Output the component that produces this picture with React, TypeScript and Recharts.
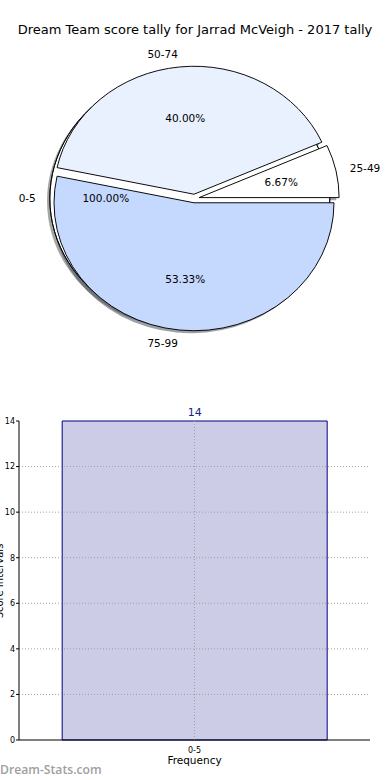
import React from "react";
import {
  PieChart,
  Pie,
  Cell,
  BarChart,
  Bar,
  XAxis,
  YAxis,
  ReferenceLine,
  LabelList,
} from "recharts";

// ---------- data ----------
const titleText = "Dream Team score tally for Jarrad McVeigh - 2017 tally";
const bgNames = ["0-5"];
const bgValues = [14];
const fgNames = ["25-49", "50-74", "75-99"];
const fgValues = [1, 6, 8];
const barCategories = ["0-5"];
const barValues = [14];
const yTicks = [0, 2, 4, 6, 8, 10, 12, 14];
const xLabel = "Frequency";
const yLabel = "Score Intervals";
const watermark = "Dream-Stats.com";

// ---------- style / layout ----------
const FONT = "'DejaVu Sans', sans-serif";
const fgColors = ["#ffffff", "#eaf1fe", "#c5d9fe"];
const bgColor = "#ffffff";
const K = 0.914; // vertical squash of the pie (elliptical axes)
const R = 140;
const CX = 194.5;
const CY = 198.5 / K;
const EXPLODE = 4.7;
const SDX = -2.8;
const SDY = 2.8;

const bgData = bgNames.map((name, i) => ({ name, value: bgValues[i] }));
const fgData = fgNames.map((name, i) => ({ name, value: fgValues[i] }));
const barData = barCategories.map((name, i) => ({ name, value: barValues[i] }));

const midAngles = (vals: number[]) => {
  const total = vals.reduce((a, b) => a + b, 0);
  let cum = 0;
  return vals.map((v) => {
    const m = ((cum + v / 2) / total) * 360;
    cum += v;
    return m;
  });
};
const pctText = (vals: number[]) => {
  const total = vals.reduce((a, b) => a + b, 0);
  return vals.map((v) => ((v / total) * 100).toFixed(2) + "%");
};

const RAD = Math.PI / 180;
const center = (mid: number) => ({
  cx: CX + EXPLODE * Math.cos(mid * RAD),
  cy: CY - EXPLODE * Math.sin(mid * RAD),
});

const darken = (hex: string) => {
  const n = parseInt(hex.slice(1), 16);
  const r = Math.round(((n >> 16) & 255) * 0.3);
  const g = Math.round(((n >> 8) & 255) * 0.3);
  const b = Math.round((n & 255) * 0.3);
  return `rgb(${r},${g},${b})`;
};

const fgMids = midAngles(fgValues);
const bgMids = midAngles(bgValues);
const fgPct = pctText(fgValues);
const bgPct = pctText(bgValues);

const makeLabel = (target: number, names: string[], pcts: string[]) => (props: any) => {
  if (props.index !== target) return <g />;
  const { cx, cy, midAngle } = props;
  const c = Math.cos(-midAngle * RAD);
  const s = Math.sin(-midAngle * RAD);
  const nx = cx + 1.1 * R * c;
  const ny = cy + 1.1 * R * s;
  const px = cx + 0.6 * R * c;
  const py = cy + 0.6 * R * s;
  return (
    <g>
      <g transform={`translate(${nx},${ny}) scale(1,${1 / K})`}>
        <text
          x={0}
          y={0}
          textAnchor={c >= 0 ? "start" : "end"}
          dominantBaseline="central"
          fontFamily={FONT}
          fontSize={10.5}
          fill="#000"
        >
          {names[target]}
        </text>
      </g>
      <g transform={`translate(${px},${py}) scale(1,${1 / K})`}>
        <text
          x={0}
          y={0}
          textAnchor="middle"
          dominantBaseline="central"
          fontFamily={FONT}
          fontSize={10.5}
          fill="#000"
        >
          {pcts[target]}
        </text>
      </g>
    </g>
  );
};

const onlyCells = (n: number, target: number, fill: string, stroke: string, fillOpacity = 1) =>
  Array.from({ length: n }).map((_, i) =>
    i === target ? (
      <Cell key={i} fill={fill} stroke={stroke} fillOpacity={fillOpacity} strokeOpacity={fillOpacity} />
    ) : (
      <Cell key={i} fill="none" stroke="none" />
    )
  );

const BarValueLabel = (props: any) => {
  const { x, y, width, value } = props;
  return (
    <text
      x={Number(x) + Number(width) / 2}
      y={Number(y) - 5}
      textAnchor="middle"
      fontFamily={FONT}
      fontSize={11}
      fill="#1a1a8c"
    >
      {value}
    </text>
  );
};

export default function App() {
  const bgC = center(bgMids[0]);
  return (
    <div
      style={{
        position: "absolute",
        left: 0,
        top: 0,
        width: 390,
        height: 780,
        background: "#fff",
        overflow: "hidden",
      }}
    >
      <div
        style={{
          position: "absolute",
          left: 0,
          top: 22,
          width: 390,
          textAlign: "center",
          fontFamily: FONT,
          fontSize: 13,
          lineHeight: "16px",
          color: "#000",
          whiteSpace: "nowrap",
        }}
      >
        {titleText}
      </div>

      <div
        style={{
          position: "absolute",
          left: 0,
          top: 0,
          width: 390,
          height: 400,
          transform: `scaleY(${K})`,
          transformOrigin: "0 0",
        }}
      >
        <PieChart width={390} height={400} margin={{ top: 0, right: 0, bottom: 0, left: 0 }}>
          {/* shadows */}
          <Pie
            data={bgData}
            dataKey="value"
            cx={bgC.cx + SDX}
            cy={bgC.cy + SDY}
            outerRadius={R}
            startAngle={0}
            endAngle={360}
            isAnimationActive={false}
            labelLine={false}
          >
            <Cell fill={darken(bgColor)} fillOpacity={0.5} stroke="none" />
          </Pie>
          {fgNames.map((_, t) => {
            const c = center(fgMids[t]);
            return (
              <Pie
                key={"sh" + t}
                data={fgData}
                dataKey="value"
                cx={c.cx + SDX}
                cy={c.cy + SDY}
                outerRadius={R}
                startAngle={0}
                endAngle={360}
                isAnimationActive={false}
                labelLine={false}
              >
                {onlyCells(fgNames.length, t, darken(fgColors[t]), "none", 0.5)}
              </Pie>
            );
          })}
          {/* background full wedge */}
          <Pie
            data={bgData}
            dataKey="value"
            cx={bgC.cx}
            cy={bgC.cy}
            outerRadius={R}
            startAngle={0}
            endAngle={360}
            isAnimationActive={false}
            labelLine={false}
          >
            <Cell fill={bgColor} stroke="none" />
          </Pie>
          <Pie
            data={bgData}
            dataKey="value"
            cx={bgC.cx}
            cy={bgC.cy}
            innerRadius={R - 0.01}
            outerRadius={R}
            startAngle={0}
            endAngle={360}
            isAnimationActive={false}
            labelLine={false}
          >
            <Cell fill="none" stroke="#000" strokeWidth={0.9} />
          </Pie>
          {/* foreground wedges */}
          {fgNames.map((_, t) => {
            const c = center(fgMids[t]);
            return (
              <Pie
                key={"w" + t}
                data={fgData}
                dataKey="value"
                cx={c.cx}
                cy={c.cy}
                outerRadius={R}
                startAngle={0}
                endAngle={360}
                isAnimationActive={false}
                labelLine={false}
              >
                {onlyCells(fgNames.length, t, fgColors[t], "#000")}
              </Pie>
            );
          })}
          {/* labels */}
          <Pie
            data={bgData}
            dataKey="value"
            cx={bgC.cx}
            cy={bgC.cy}
            outerRadius={R}
            startAngle={0}
            endAngle={360}
            isAnimationActive={false}
            labelLine={false}
            label={makeLabel(0, bgNames, bgPct)}
          >
            <Cell fill="none" stroke="none" />
          </Pie>
          {fgNames.map((_, t) => {
            const c = center(fgMids[t]);
            return (
              <Pie
                key={"l" + t}
                data={fgData}
                dataKey="value"
                cx={c.cx}
                cy={c.cy}
                outerRadius={R}
                startAngle={0}
                endAngle={360}
                isAnimationActive={false}
                labelLine={false}
                label={makeLabel(t, fgNames, fgPct)}
              >
                {onlyCells(fgNames.length, -1, "none", "none")}
              </Pie>
            );
          })}
        </PieChart>
      </div>

      <div style={{ position: "absolute", left: 0, top: 400, width: 390, height: 380 }}>
        <BarChart
          width={390}
          height={380}
          data={barData}
          margin={{ top: 21, right: 20, bottom: 0, left: 0 }}
          barCategoryGap="12.3%"
        >
          <XAxis
            dataKey="name"
            height={40}
            tickLine={false}
            tickMargin={1}
            axisLine={{ stroke: "#000" }}
            tick={{ fontSize: 8, fontFamily: FONT, fill: "#000" }}
            label={{
              value: xLabel,
              position: "insideBottom",
              offset: 16,
              fontSize: 10.5,
              fontFamily: FONT,
              fill: "#000",
            }}
          />
          <XAxis
            xAxisId="top"
            dataKey="name"
            orientation="top"
            height={0}
            tick={false}
            tickLine={false}
            axisLine={{ stroke: "#000" }}
          />
          <YAxis
            domain={[0, 14]}
            ticks={yTicks}
            width={19}
            tickSize={3}
            tickMargin={1}
            interval={0}
            axisLine={{ stroke: "#000" }}
            tickLine={{ stroke: "#000" }}
            tick={{ fontSize: 8, fontFamily: FONT, fill: "#000" }}
          />
          <YAxis
            yAxisId="right"
            orientation="right"
            domain={[0, 14]}
            ticks={yTicks}
            width={0}
            tick={false}
            tickLine={false}
            axisLine={{ stroke: "#000" }}
          />
          <Bar dataKey="value" fill="#ccccE6" stroke="#000080" strokeWidth={1} isAnimationActive={false}>
            <LabelList dataKey="value" content={BarValueLabel} />
          </Bar>
          {yTicks.slice(1, -1).map((t) => (
            <ReferenceLine
              key={"gy" + t}
              y={t}
              stroke="#a0a0a0"
              strokeDasharray="1 2"
            />
          ))}
          {barCategories.map((c) => (
            <ReferenceLine
              key={"gx" + c}
              x={c}
              stroke="#a0a0a0"
              strokeDasharray="1 2"
            />
          ))}
        </BarChart>
      </div>

      <svg
        width={20}
        height={380}
        style={{ position: "absolute", left: 0, top: 400, overflow: "visible" }}
      >
        <text
          transform="translate(3,181) rotate(-90)"
          textAnchor="middle"
          fontFamily={FONT}
          fontSize={10}
          fill="#000"
        >
          {yLabel}
        </text>
      </svg>

      <div
        style={{
          position: "absolute",
          left: 0,
          top: 762,
          fontFamily: "'Open Sans', sans-serif",
          fontWeight: 600,
          fontSize: 12.2,
          lineHeight: "16px",
          color: "#a0a0a0",
          whiteSpace: "nowrap",
        }}
      >
        {watermark}
      </div>
    </div>
  );
}
